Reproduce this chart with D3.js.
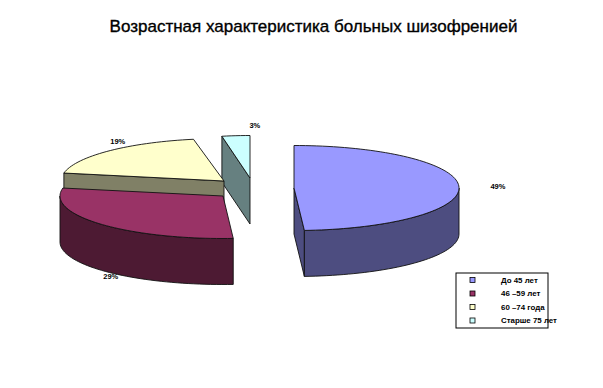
<!DOCTYPE html>
<html>
<head>
<meta charset="utf-8">
<script src="https://cdn.jsdelivr.net/npm/d3@7"></script>
<style>
  body { margin: 0; background: #fff; }
  svg { display: block; }
</style>
</head>
<body>
<div id="chart"></div>
<script>
// Chart data
const categories = ["До 45 лет", "46 –59 лет", "60 –74 года", "Старше 75 лет"]
const shares = [49, 29, 19, 3]
const title = "Возрастная характеристика больных шизофренией"

// Colors
const topColors = ["#9999ff", "#993366", "#ffffcc", "#ccffff"]
const sideColors = ["#4d4d80", "#4d1a33", "#808066", "#668080"]

// Dimensions
const width = 603
const height = 388
const ry = 42.5
const depth = 46

// Each slice is pulled out on its own, so each gets its own centre and width
const sliceCenters = [[294, 188], [223, 196], [224, 181], [250, 178]]
const sliceRx = [165, 163, 163, 150]
const labelShift = [[39, 0], [10, 52], [9, -9], [19, -10]]
const drawOrder = [3, 2, 1, 0]

const svg = d3
  .select("#chart")
  .append("svg")
  .attr("width", width)
  .attr("height", height)
  .attr("viewBox", [0, 0, width, height])
  .style("font-family", "'Liberation Sans', sans-serif")

svg
  .append("text")
  .attr("x", 313.5)
  .attr("y", 32)
  .attr("text-anchor", "middle")
  .style("font-size", "17px")
  .style("fill", "#000")
  .style("stroke", "#000")
  .style("stroke-width", 0.35)
  .text(title)

const pie = d3.pie().sort(null).value((d) => d)
const arcs = pie(shares)

// Angle is clockwise from the top, as in d3.pie
const project = (i, a, drop = 0) => [
  sliceCenters[i][0] + sliceRx[i] * Math.sin(a),
  sliceCenters[i][1] - ry * Math.cos(a) + drop,
]

const rimAngles = (a0, a1) => {
  const n = Math.max(2, Math.ceil(((a1 - a0) * 180) / Math.PI / 2))
  return d3.range(n + 1).map((k) => a0 + ((a1 - a0) * k) / n)
}

const line = d3.line()

function addShape(points, color) {
  svg
    .append("path")
    .attr("d", line(points) + "Z")
    .attr("fill", color)
    .attr("stroke", "#111")
    .attr("stroke-width", 0.9)
    .attr("stroke-linejoin", "round")
}

drawOrder.forEach((i) => {
  const { startAngle: a0, endAngle: a1 } = arcs[i]
  const apex = sliceCenters[i]
  const apexLow = [apex[0], apex[1] + depth]

  // Cut walls that face the viewer
  if (i === 0) {
    addShape([apex, project(i, a1), project(i, a1, depth), apexLow], sideColors[i])
  }
  if (i === 2 || i === 3) {
    addShape([apex, project(i, a0), project(i, a0, depth), apexLow], sideColors[i])
  }

  // Outer rim, only the front half of the ellipse shows
  const rimStart = Math.max(a0, Math.PI / 2)
  const rimEnd = Math.min(a1, (3 * Math.PI) / 2)
  if (rimStart < rimEnd) {
    const rim = rimAngles(rimStart, rimEnd)
    addShape(
      [
        ...rim.map((a) => project(i, a)),
        ...rim.reverse().map((a) => project(i, a, depth)),
      ],
      sideColors[i]
    )
  }

  // Top face
  addShape([apex, ...rimAngles(a0, a1).map((a) => project(i, a))], topColors[i])
})

// Percent labels
svg
  .selectAll(".pct")
  .data(arcs)
  .join("text")
  .attr("class", "pct")
  .attr("x", (d, i) => project(i, (d.startAngle + d.endAngle) / 2)[0] + labelShift[i][0])
  .attr("y", (d, i) => project(i, (d.startAngle + d.endAngle) / 2)[1] + labelShift[i][1] + 2.5)
  .attr("text-anchor", "middle")
  .style("font-size", "7.5px")
  .style("font-weight", "bold")
  .style("fill", "#000")
  .text((d) => d.data + "%")

// Legend
const legendY = d3.scalePoint().domain(categories).range([280, 320.5])

svg
  .append("rect")
  .attr("x", 456)
  .attr("y", 273)
  .attr("width", 92)
  .attr("height", 55)
  .attr("fill", "#fff")
  .attr("stroke", "#000")
  .attr("stroke-width", 1)

const legendRows = svg
  .selectAll(".legend-row")
  .data(categories)
  .join("g")
  .attr("class", "legend-row")
  .attr("transform", (d) => `translate(0,${legendY(d)})`)

legendRows
  .append("rect")
  .attr("x", 470)
  .attr("y", -2.5)
  .attr("width", 5)
  .attr("height", 5)
  .attr("fill", (d, i) => topColors[i])
  .attr("stroke", "#000")
  .attr("stroke-width", 0.8)

legendRows
  .append("text")
  .attr("x", 501)
  .attr("y", 2.5)
  .style("font-size", "7.9px")
  .style("font-weight", "bold")
  .style("fill", "#000")
  .text((d) => d)
</script>
</body>
</html>
